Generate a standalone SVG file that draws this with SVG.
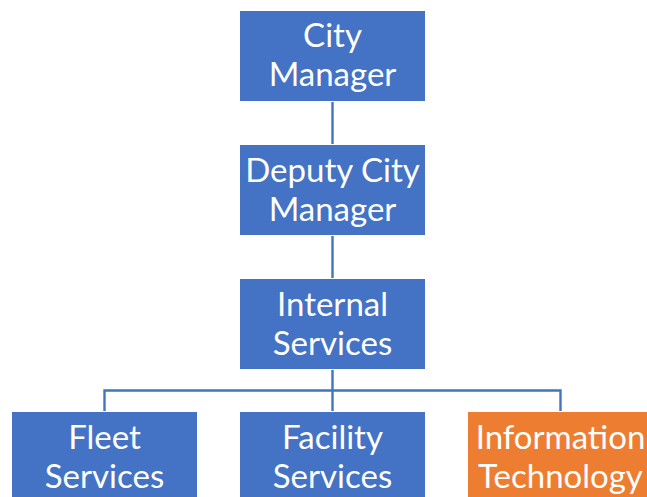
<svg xmlns="http://www.w3.org/2000/svg" width="647" height="497" viewBox="0 0 647 497">
<style>
.box{fill:#4472C4;stroke:#ffffff;stroke-width:1}
.org{fill:#ED7D31;stroke:#ffffff;stroke-width:1}
.t{font-family:Lato,"Liberation Sans",sans-serif;font-size:33px;fill:#ffffff;text-anchor:middle}
.c{fill:none;stroke:#4472C4;stroke-width:2.4}
</style>
<rect width="647" height="497" fill="#ffffff"/>
<g id="connectors">
<path class="c" d="M332.5 101V144M332.5 235V278M332.5 369V412M104.5 412V390.5H560.5V412"/>
</g>
<g id="city-manager">
<rect class="box" x="239.5" y="10.5" width="186" height="91"/>
<text class="t" x="332.5" y="47">City</text>
<text class="t" x="332.5" y="86">Manager</text>
</g>
<g id="deputy-city-manager">
<rect class="box" x="239.5" y="144.5" width="186" height="91"/>
<text class="t" x="332.5" y="182">Deputy City</text>
<text class="t" x="332.5" y="221">Manager</text>
</g>
<g id="internal-services">
<rect class="box" x="239.5" y="278.5" width="186" height="91"/>
<text class="t" x="332.5" y="316">Internal</text>
<text class="t" x="332.5" y="355">Services</text>
</g>
<g id="fleet-services">
<rect class="box" x="11.5" y="411.5" width="186" height="91"/>
<text class="t" x="104.5" y="449">Fleet</text>
<text class="t" x="104.5" y="488">Services</text>
</g>
<g id="facility-services">
<rect class="box" x="239.5" y="411.5" width="186" height="91"/>
<text class="t" x="332.5" y="449">Facility</text>
<text class="t" x="332.5" y="488">Services</text>
</g>
<g id="information-technology">
<rect class="org" x="467.5" y="411.5" width="186" height="91"/>
<text class="t" x="560.5" y="449">Information</text>
<text class="t" x="560.5" y="488">Technology</text>
</g>
</svg>
